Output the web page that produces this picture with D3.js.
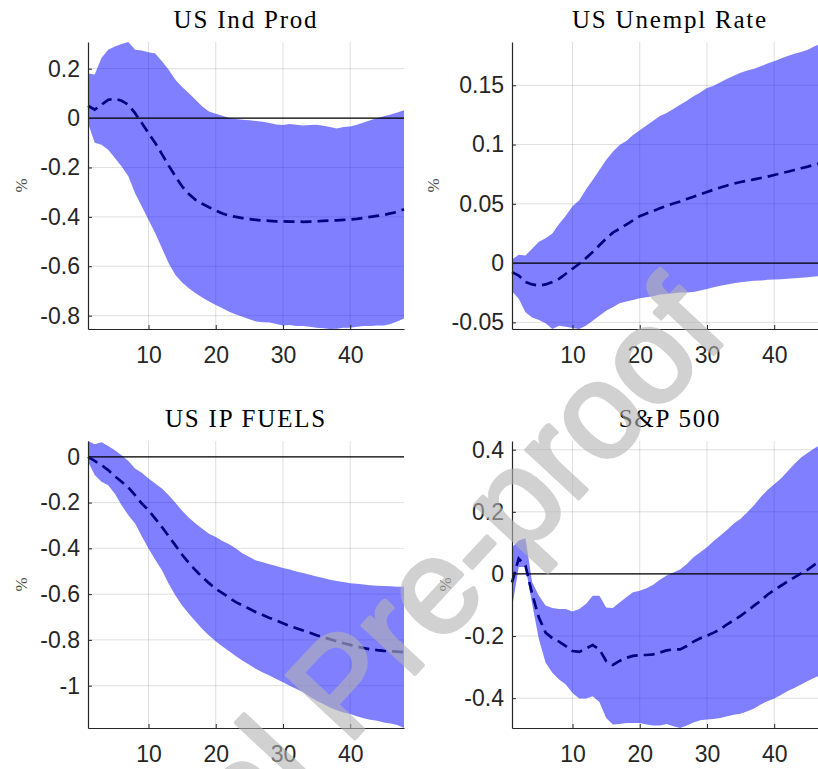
<!DOCTYPE html>
<html>
<head>
<meta charset="utf-8">
<script src="https://cdn.jsdelivr.net/npm/d3@7"></script>
<style>
  html, body { margin: 0; padding: 0; background: #ffffff; overflow: hidden; }
  svg { display: block; }
</style>
</head>
<body>
<svg id="chart" width="818" height="769"></svg>
<script>
// Impulse-response horizons (months)
const horizons = [1, 2, 3, 4, 5, 6, 7, 8, 9, 10, 11, 12, 13, 14, 15, 16, 17, 18, 19, 20, 21, 22, 23, 24,
                  25, 26, 27, 28, 29, 30, 31, 32, 33, 34, 35, 36, 37, 38, 39, 40, 41, 42, 43, 44, 45, 46, 47, 48];
const xTickValues = [10, 20, 30, 40];

// US Ind Prod
const indProdUpper = [0.18, 0.176, 0.243, 0.277, 0.29, 0.30, 0.308, 0.277, 0.274, 0.266, 0.261, 0.23,
  0.196, 0.155, 0.126, 0.10, 0.074, 0.047, 0.027, 0.018, 0.009, 0.0, -0.004, -0.007,
  -0.009, -0.012, -0.015, -0.02, -0.026, -0.028, -0.024, -0.027, -0.03, -0.028, -0.027, -0.031,
  -0.036, -0.042, -0.036, -0.034, -0.027, -0.018, -0.009, 0.0, 0.007, 0.014, 0.023, 0.032];
const indProdLower = [-0.02, -0.10, -0.108, -0.128, -0.162, -0.196, -0.236, -0.304, -0.358, -0.412, -0.466, -0.527,
  -0.588, -0.635, -0.666, -0.689, -0.709, -0.726, -0.743, -0.757, -0.77, -0.784, -0.795, -0.804,
  -0.815, -0.824, -0.827, -0.828, -0.834, -0.84, -0.838, -0.842, -0.842, -0.845, -0.849, -0.851,
  -0.854, -0.853, -0.849, -0.849, -0.845, -0.842, -0.842, -0.84, -0.84, -0.834, -0.824, -0.811];
const indProdMedian = [0.05, 0.034, 0.054, 0.074, 0.078, 0.07, 0.054, 0.02, -0.02, -0.061, -0.101, -0.146,
  -0.192, -0.236, -0.277, -0.308, -0.331, -0.347, -0.361, -0.374, -0.386, -0.395, -0.40, -0.405,
  -0.409, -0.412, -0.415, -0.416, -0.418, -0.418, -0.419, -0.419, -0.42, -0.419, -0.418, -0.416,
  -0.415, -0.414, -0.412, -0.411, -0.408, -0.404, -0.40, -0.396, -0.392, -0.386, -0.38, -0.369];

// US Unempl Rate
const unemplUpper = [0.003, 0.007, 0.0065, 0.012, 0.018, 0.021, 0.025, 0.033, 0.04, 0.048, 0.053, 0.062,
  0.07, 0.0785, 0.087, 0.094, 0.0997, 0.103, 0.108, 0.112, 0.116, 0.12, 0.124, 0.1266,
  0.13, 0.1336, 0.137, 0.1407, 0.144, 0.1477, 0.1497, 0.1525, 0.1554, 0.158, 0.1605, 0.1624,
  0.164, 0.166, 0.1684, 0.1703, 0.1726, 0.1746, 0.1765, 0.178, 0.18, 0.183, 0.185, 0.1865];
const unemplLower = [-0.0237, -0.030, -0.0415, -0.0458, -0.048, -0.0508, -0.0556, -0.0528, -0.0537, -0.0548, -0.0556, -0.0528,
  -0.0486, -0.0444, -0.0401, -0.0373, -0.0339, -0.0325, -0.0311, -0.0297, -0.0288, -0.028, -0.0266, -0.026,
  -0.0254, -0.0249, -0.0249, -0.0243, -0.0232, -0.0218, -0.0203, -0.0192, -0.0181, -0.017, -0.0161, -0.0155,
  -0.015, -0.0147, -0.0141, -0.0138, -0.0136, -0.0133, -0.0127, -0.0124, -0.0119, -0.0113, -0.011, -0.0108];
const unemplMedian = [-0.0076, -0.0105, -0.016, -0.018, -0.019, -0.018, -0.016, -0.0133, -0.009, -0.0048, -0.0006, 0.0042,
  0.0093, 0.015, 0.0206, 0.0257, 0.029, 0.0325, 0.036, 0.0395, 0.0418, 0.044, 0.0463, 0.0483,
  0.0503, 0.052, 0.054, 0.056, 0.058, 0.06, 0.0619, 0.0638, 0.0655, 0.067, 0.0684, 0.0695,
  0.0706, 0.0718, 0.0729, 0.0743, 0.0757, 0.0771, 0.0785, 0.08, 0.0814, 0.083, 0.0845, 0.086];

// US IP FUELS
const fuelsUpper = [0.069, 0.055, 0.063, 0.047, 0.029, 0.007, -0.018, -0.051, -0.07, -0.095, -0.117, -0.139,
  -0.168, -0.201, -0.236, -0.266, -0.292, -0.314, -0.336, -0.35, -0.368, -0.382, -0.401, -0.423,
  -0.438, -0.453, -0.461, -0.47, -0.477, -0.486, -0.493, -0.501, -0.508, -0.515, -0.523, -0.53,
  -0.537, -0.543, -0.547, -0.552, -0.555, -0.558, -0.561, -0.564, -0.565, -0.566, -0.568, -0.568];
const fuelsLower = [-0.022, -0.08, -0.109, -0.124, -0.161, -0.212, -0.255, -0.292, -0.347, -0.401, -0.45, -0.496,
  -0.555, -0.606, -0.65, -0.686, -0.72, -0.752, -0.781, -0.806, -0.829, -0.85, -0.872, -0.891,
  -0.909, -0.927, -0.942, -0.956, -0.971, -0.985, -1.0, -1.015, -1.029, -1.048, -1.066, -1.08,
  -1.095, -1.107, -1.117, -1.124, -1.134, -1.142, -1.149, -1.153, -1.161, -1.165, -1.172, -1.185];
const fuelsMedian = [0.0, -0.018, -0.036, -0.058, -0.085, -0.109, -0.134, -0.168, -0.204, -0.234, -0.27, -0.307,
  -0.347, -0.387, -0.428, -0.464, -0.496, -0.526, -0.552, -0.577, -0.596, -0.616, -0.635, -0.65,
  -0.664, -0.679, -0.691, -0.704, -0.715, -0.727, -0.739, -0.749, -0.759, -0.769, -0.78, -0.788,
  -0.797, -0.806, -0.815, -0.822, -0.829, -0.836, -0.841, -0.845, -0.848, -0.85, -0.851, -0.854];

// S&P 500
const spUpper = [0.086, 0.108, 0.115, -0.027, -0.07, -0.102, -0.11, -0.113, -0.113, -0.121, -0.113, -0.097,
  -0.07, -0.07, -0.108, -0.11, -0.092, -0.075, -0.059, -0.054, -0.046, -0.035, -0.019, -0.005,
  0.005, 0.014, 0.032, 0.054, 0.07, 0.086, 0.106, 0.124, 0.142, 0.162, 0.178, 0.199,
  0.221, 0.248, 0.27, 0.289, 0.307, 0.331, 0.354, 0.375, 0.39, 0.405, 0.417, 0.428];
const spLower = [-0.11, 0.022, 0.022, -0.097, -0.21, -0.286, -0.318, -0.34, -0.356, -0.383, -0.401, -0.401,
  -0.394, -0.412, -0.464, -0.485, -0.483, -0.48, -0.48, -0.48, -0.485, -0.488, -0.488, -0.483,
  -0.49, -0.496, -0.488, -0.478, -0.471, -0.469, -0.467, -0.464, -0.458, -0.453, -0.45, -0.442,
  -0.433, -0.42, -0.41, -0.401, -0.39, -0.377, -0.367, -0.356, -0.345, -0.334, -0.325, -0.315];
const spMedian = [-0.027, 0.049, 0.027, -0.065, -0.14, -0.189, -0.207, -0.218, -0.232, -0.248, -0.251, -0.24,
  -0.229, -0.243, -0.28, -0.293, -0.28, -0.27, -0.264, -0.261, -0.261, -0.259, -0.253, -0.246,
  -0.243, -0.243, -0.232, -0.218, -0.207, -0.199, -0.189, -0.178, -0.162, -0.149, -0.135, -0.119,
  -0.102, -0.086, -0.067, -0.052, -0.038, -0.024, -0.011, 0.002, 0.014, 0.03, 0.04, 0.05];

const titles = ["US Ind Prod", "US Unempl Rate", "US IP FUELS", "S&P 500"];
const yTickValues = [
  [0.2, 0, -0.2, -0.4, -0.6, -0.8],
  [0.15, 0.1, 0.05, 0, -0.05],
  [0, -0.2, -0.4, -0.6, -0.8, -1],
  [0.4, 0.2, 0, -0.2, -0.4]
];
const yTickLabels = [
  ["0.2", "0", "-0.2", "-0.4", "-0.6", "-0.8"],
  ["0.15", "0.1", "0.05", "0", "-0.05"],
  ["0", "-0.2", "-0.4", "-0.6", "-0.8", "-1"],
  ["0.4", "0.2", "0", "-0.2", "-0.4"]
];
const yLabel = "%";
const watermarkText = "Journal Pre-proof";

const panels = [
  { title: titles[0], upper: indProdUpper, lower: indProdLower, median: indProdMedian, ticks: yTickValues[0], labels: yTickLabels[0] },
  { title: titles[1], upper: unemplUpper, lower: unemplLower, median: unemplMedian, ticks: yTickValues[1], labels: yTickLabels[1] },
  { title: titles[2], upper: fuelsUpper, lower: fuelsLower, median: fuelsMedian, ticks: yTickValues[2], labels: yTickLabels[2] },
  { title: titles[3], upper: spUpper, lower: spLower, median: spMedian, ticks: yTickValues[3], labels: yTickLabels[3] }
];

// 2x2 subplot grid
const frames = [
  { left: 88,  top: 42,  width: 316, height: 287 },
  { left: 512, top: 42,  width: 316, height: 287 },
  { left: 88,  top: 441, width: 316, height: 287 },
  { left: 512, top: 441, width: 316, height: 287 }
];

const svg = d3.select("#chart");
const axisColor = "#262626";
const sansFont = "'Liberation Sans', Arial, Helvetica, sans-serif";
const serifFont = "'Liberation Serif', 'Times New Roman', serif";

panels.forEach((p, i) => {
  const f = frames[i];
  const g = svg.append("g").attr("transform", `translate(${f.left},${f.top})`);

  const x = d3.scaleLinear().domain(d3.extent(horizons)).range([0, f.width]);
  const y = d3.scaleLinear()
    .domain([d3.min(p.lower), d3.max(p.upper)])
    .range([f.height, 0]);

  const rows = horizons.map((h, k) => ({ h, lo: p.lower[k], hi: p.upper[k], med: p.median[k] }));

  // grid
  const grid = g.append("g");
  grid.selectAll("line.gx").data(xTickValues).join("line")
    .attr("x1", d => x(d)).attr("x2", d => x(d))
    .attr("y1", 0).attr("y2", f.height)
    .attr("stroke", axisColor).attr("stroke-opacity", 0.15).attr("stroke-width", 1);
  grid.selectAll("line.gy").data(p.ticks).join("line")
    .attr("x1", 0).attr("x2", f.width)
    .attr("y1", d => y(d)).attr("y2", d => y(d))
    .attr("stroke", axisColor).attr("stroke-opacity", 0.15).attr("stroke-width", 1);

  // confidence band
  const area = d3.area().x(d => x(d.h)).y0(d => y(d.lo)).y1(d => y(d.hi));
  g.append("path").datum(rows)
    .attr("d", area)
    .attr("fill", "#0000ff").attr("fill-opacity", 0.5);

  // zero line
  g.append("line")
    .attr("x1", x(horizons[0])).attr("x2", x(horizons[horizons.length - 1]))
    .attr("y1", y(0)).attr("y2", y(0))
    .attr("stroke", "#000000").attr("stroke-width", 1.2);

  // median response
  const line = d3.line().x(d => x(d.h)).y(d => y(d.med));
  g.append("path").datum(rows)
    .attr("d", line)
    .attr("fill", "none")
    .attr("stroke", "#000080")
    .attr("stroke-width", 2.7)
    .attr("stroke-dasharray", "11,6");

  // axes
  const yAxis = d3.axisLeft(y)
    .tickValues(p.ticks)
    .tickFormat((d, k) => p.labels[k])
    .tickSizeInner(-4).tickSizeOuter(0).tickPadding(8);
  const yg = g.append("g").call(yAxis);

  const xAxis = d3.axisBottom(x)
    .tickValues(xTickValues)
    .tickFormat(d3.format("d"))
    .tickSizeInner(-4).tickSizeOuter(0).tickPadding(18);
  const xg = g.append("g").attr("transform", `translate(0,${f.height})`).call(xAxis);

  [yg, xg].forEach(ax => {
    ax.select(".domain").attr("stroke", axisColor).attr("stroke-width", 1.2);
    ax.selectAll(".tick line").attr("stroke", axisColor).attr("stroke-width", 1);
    ax.selectAll(".tick text")
      .attr("fill", axisColor)
      .style("font-family", sansFont)
      .style("font-size", "23px");
  });

  // y label, placed just left of the tick labels
  const labelLeft = yg.selectAll(".tick text").nodes()
    .map(n => n.getBBox())
    .reduce((m, b) => Math.min(m, b.x), 0);
  g.append("text")
    .attr("transform", `translate(${labelLeft - 19},${f.height / 2}) rotate(-90)`)
    .attr("text-anchor", "middle")
    .attr("dy", "0.35em")
    .attr("fill", "#4d4d4d")
    .style("font-family", serifFont)
    .style("font-size", "17px")
    .text(yLabel);

  // title
  g.append("text")
    .attr("x", f.width / 2)
    .attr("y", -14)
    .attr("text-anchor", "middle")
    .attr("fill", "#000000")
    .style("font-family", serifFont)
    .style("font-size", "25px")
    .style("letter-spacing", "1.8px")
    .text(p.title);
});

// diagonal watermark (group opacity keeps fill and outline as one tone)
svg.append("g")
  .attr("opacity", 0.6)
  .append("text")
  .attr("transform", "translate(731,335) rotate(-47)")
  .attr("text-anchor", "end")
  .attr("fill", "#b4b4b4")
  .attr("stroke", "#b4b4b4")
  .attr("stroke-width", 4)
  .attr("stroke-linejoin", "round")
  .style("font-family", sansFont)
  .style("font-size", "135px")
  .text(watermarkText);
</script>
</body>
</html>
